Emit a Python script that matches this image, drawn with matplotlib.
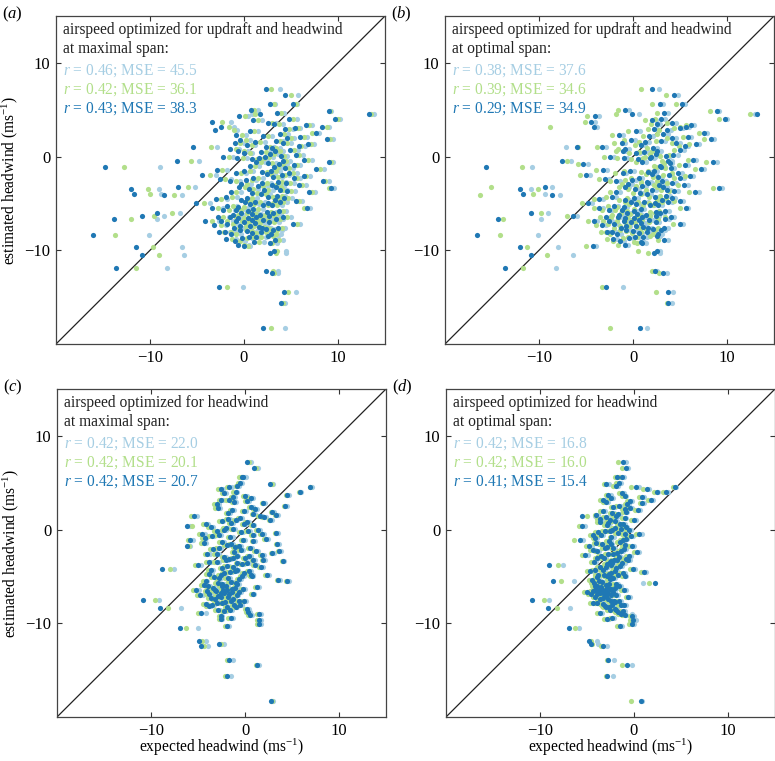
import matplotlib

matplotlib.use("Agg")
import matplotlib.pyplot as plt

# estimated headwind (ms-1), shared by every panel and every series
Y_EST = [
    7.2, 6.6, 5.6, 5.6, 4.9, 4.5, 4.5, 4.3, 4.0, 4.0,
    3.7, 3.2, 3.2, 2.8, 2.5, 2.4, 2.1, 1.9, 1.6, 1.4,
    1.0, 1.0, 0.8, 0.6, 0.4, 0.2, 0.0, -0.2, -0.4, -0.5,
    -0.6, -0.8, -1.0, -1.1, -1.3, -1.5, -1.7, -1.8, -2.0, -2.1,
    -2.3, -2.4, -2.6, -2.7, -2.9, -3.0, -3.2, -3.4, -3.5, -3.6,
    -3.8, -4.0, -4.1, -4.2, -4.4, -4.5, -4.7, -4.8, -5.0, -5.2,
    -5.4, -5.5, -5.7, -5.9, -6.0, -6.1, -6.3, -6.4, -6.5, -6.7,
    -6.8, -6.9, -7.0, -7.2, -7.3, -7.5, -7.6, -7.8, -8.0, -8.2,
    -8.4, -8.5, -8.7, -8.9, -9.0, -9.2, -9.5, -9.7, -10.1, -10.3,
    -10.5, -11.9, -12.2, -12.4, -13.9, -14.5, -15.6, -18.3,
    1.2, 0.9, 0.5, 0.1, -0.3, -0.7, -1.2, -1.6, -2.2, -2.5,
    -2.8, -3.1, -3.3, -3.7, -3.9, -4.3, -4.6, -4.9, -5.1, -5.3,
    -5.6, -5.8, -6.0, -6.2, -6.4, -6.6, -6.7, -6.9, -7.1, -7.4,
    -7.7, -7.9, -8.1, -8.6, -8.8, 1.8, 2.2, 3.0, 3.5, 1.3, -0.9, -3.8,
    4.7, 3.9, 3.4, 2.7, 2.0, 1.5, 0.7, 0.3, -0.1, -0.6,
    -1.1, -1.4, -1.9, -2.3, -2.6, -3.0, -3.3, -3.6, -4.0, -4.3,
    -4.6, -4.9, -5.2, -5.5, -5.8, -6.0, -6.2, -6.4, -6.6, -6.8,
    -7.0, -7.2, -7.4, -7.6, -7.8, -8.0, -8.3, -8.6, -9.1, -9.4,
    5.0, 3.6, 2.9, 2.3, 1.7, 1.1, 0.6, 0.0, -0.5, -1.5,
    -2.0, -2.8, -3.5, -4.4, -5.0, -5.7, -6.3, -6.9, -7.6, -8.3,
]

# expected headwind (ms-1): (a) updraft + headwind, maximal span
A_DARK = [
    2.3, 4.4, 2.8, 5.2, 9.0, 13.3, 1.7, -0.5, 9.7, 4.8,
    -3.4, 8.3, -2.4, -3.1, 7.7, 3.8, 6.0, 8.8, 1.2, 4.2,
    -5.4, 2.3, -1.5, 3.3, 0.0, 5.5, -2.2, 1.6, 6.4, -7.1,
    9.0, 3.7, 0.6, -14.8, 7.7, 2.9, -0.9, 4.8, -4.5, 6.4,
    1.0, -2.6, 8.4, 3.6, -0.3, 5.9, -7.0, 9.3, -12.0, 2.1,
    -1.4, -11.7, -8.5, 3.5, 0.3, -3.0, 5.5, 1.2, -5.1, 3.0,
    -0.6, 6.7, -2.2, 2.4, -9.3, 0.8, -10.8, 4.2, -1.5, -13.8,
    2.0, -4.1, 0.0, 5.2, -3.2, 1.6, -1.1, 3.1, -2.0, 0.8,
    -16.1, 2.6, -0.2, 3.3, -1.0, 2.8, 0.0, -11.5, 3.2, 2.8,
    -10.8, -13.6, 2.3, 3.0, -2.7, 4.3, 3.9, 2.0,
    0.3, 3.0, 1.8, 3.9, 0.8, 2.6, 4.4, 1.9, 3.1, 0.2,
    4.5, 1.5, 3.4, 4.6, 0.9, 2.6, -0.3, 3.8, 0.6, -1.8,
    1.0, 3.7, -0.3, 1.7, -2.8, 0.4, 3.4, -0.8, 1.2, -0.4,
    2.3, 0.3, -2.7, 1.3, -1.9, -0.4, 2.0, 5.4, 3.2, 6.8, 5.3, 6.9,
    3.5, 1.0, 6.6, 0.6, 4.6, -1.0, 4.9, 2.8, -0.7, 1.3,
    3.2, -2.9, 2.4, 5.3, -1.5, 3.0, -0.5, 3.8, 1.8, -1.9,
    3.3, 0.1, 2.0, -3.4, 0.4, 3.1, -1.2, 1.3, -0.6, 0.9,
    2.7, -1.8, 0.6, 3.6, -0.4, 1.8, -1.4, 0.5, 1.1, -0.6,
    0.7, 2.5, 4.4, -0.8, 3.4, 5.8, -0.6, 2.2, 4.1, 0.0,
    4.0, 1.9, 0.5, 4.3, 2.6, -0.9, 2.7, -2.4, 1.9, 2.9,
]
A_GREEN = [
    2.9, 5.0, 3.2, 5.5, 9.2, 13.5, 1.2, 0.1, 10.0, 5.2,
    -2.3, 8.8, -1.6, -1.1, 7.2, 4.3, 6.4, 9.2, 1.7, 4.6,
    -3.5, 2.8, -0.9, 3.8, 0.6, 5.9, -1.6, 2.1, 6.8, -5.6,
    9.3, 4.2, 1.2, -12.8, 8.1, 3.4, -0.3, 5.2, -3.6, 6.6,
    1.5, -2.0, 8.6, 4.0, 0.3, 6.2, -6.0, 9.0, -10.2, 2.6,
    -0.8, -10.0, -7.5, 4.0, 0.9, -2.4, 5.8, 1.7, -4.3, 3.5,
    0.0, 6.4, -1.6, 2.9, -7.7, 1.3, -9.6, 4.6, -0.9, -12.0,
    2.5, -3.4, 0.5, 5.6, -2.5, 2.1, -0.5, 3.5, -1.4, 1.3,
    -13.7, 3.1, 0.3, 3.7, -0.4, 3.0, 0.4, -9.7, 3.5, 3.4,
    -9.0, -11.5, 3.1, 3.2, -1.8, 4.7, 4.1, 2.9,
    0.8, 3.4, 2.3, 4.3, 1.4, 3.0, 4.8, 2.4, 3.6, 0.8,
    4.9, 2.0, 3.9, 5.0, 1.4, 3.1, 0.3, 4.2, 1.1, -1.2,
    1.5, 4.1, 0.3, 2.2, -2.2, 0.9, 3.8, -0.2, 1.7, 0.2,
    2.8, 0.9, -2.1, 1.8, -1.3, 0.2, 2.5, 5.7, 3.7, 7.1, 5.6, 7.2,
    3.9, 1.5, 6.9, 1.1, 5.0, -0.4, 5.3, 3.2, -0.1, 1.8,
    3.6, -2.3, 2.9, 5.6, -0.9, 3.4, 0.1, 4.2, 2.3, -1.3,
    3.7, 0.7, 2.5, -2.8, 0.9, 3.5, -0.6, 1.8, 0.0, 1.4,
    3.2, -1.2, 1.1, 4.0, 0.2, 2.3, -0.8, 1.0, 1.6, 0.0,
    1.1, 3.0, 4.8, -0.2, 3.8, 6.1, 0.0, 2.7, 4.5, 0.6,
    4.4, 2.4, 1.0, 4.7, 3.1, -0.3, 3.2, -1.8, 2.4, 3.4,
]
A_LIGHT = [
    3.8, 5.7, 3.3, 5.6, 9.3, 13.8, 0.9, 0.4, 10.2, 5.6,
    -1.4, 9.0, -1.1, -0.7, 8.0, 4.7, 6.7, 9.5, 2.2, 5.0,
    -2.9, 3.2, -0.5, 4.2, 0.9, 6.3, -1.2, 2.6, 7.2, -4.8,
    9.5, 4.6, 1.6, -8.9, 8.5, 3.8, 0.2, 5.6, -3.0, 7.0,
    2.0, -1.4, 9.0, 4.5, 0.7, 6.6, -5.2, 9.6, -9.0, 3.1,
    -0.3, -8.8, -6.6, 4.4, 1.4, -1.8, 6.2, 2.2, -3.6, 4.0,
    0.5, 7.0, -1.0, 3.4, -6.8, 1.8, -8.5, 5.0, -0.4, -9.3,
    3.0, -2.7, 1.1, 6.0, -1.9, 2.6, 0.0, 4.0, -0.8, 1.8,
    -10.1, 3.6, 0.8, 4.1, 0.1, 3.5, 0.6, -6.6, 4.5, 4.5,
    -6.4, -8.2, 3.6, 3.6, -0.1, 5.5, 4.4, 4.4,
    1.2, 3.8, 2.8, 4.6, 1.8, 3.4, 5.2, 2.8, 4.0, 1.3,
    5.3, 2.5, 4.3, 5.4, 1.9, 3.6, 0.8, 4.6, 1.6, -0.7,
    2.0, 4.5, 0.8, 2.7, -1.6, 1.4, 4.2, 0.3, 2.2, 0.7,
    3.3, 1.4, -1.5, 2.3, -0.8, 0.6, 3.0, 6.0, 4.1, 7.4, 6.0, 7.5,
    4.3, 1.9, 7.2, 1.5, 5.3, 0.0, 5.7, 3.6, 0.3, 2.2,
    4.0, -1.8, 3.3, 6.0, -0.4, 3.8, 0.5, 4.6, 2.8, -0.7,
    4.1, 1.2, 3.0, -2.2, 1.4, 3.9, -0.1, 2.3, 0.5, 1.9,
    3.7, -0.6, 1.6, 4.4, 0.7, 2.8, -0.3, 1.5, 2.1, 0.5,
    1.5, 3.4, 5.2, 0.2, 4.2, 6.5, 0.4, 3.1, 4.9, 1.0,
    4.8, 2.9, 1.5, 5.1, 3.6, 0.2, 3.7, -1.2, 2.9, 3.9,
]

# (b) updraft + headwind, optimal span
B_DARK = [
    2.0, 4.4, 2.9, 5.2, 8.9, 13.2, -0.1, -4.0, 9.8, 3.0,
    -4.5, 5.6, -4.2, 3.6, 7.5, 3.2, 5.9, 8.3, 1.3, 4.6,
    -6.0, -3.3, -0.8, 2.6, 0.3, 4.3, -2.4, 1.8, 6.4, -7.6,
    8.5, -5.3, 2.9, -15.6, 7.2, 2.2, -1.1, 4.8, -5.0, 6.1,
    0.6, -3.0, 3.1, 1.5, -0.5, 5.4, -9.4, 9.2, -12.0, 2.0,
    -1.8, -11.7, -8.6, 3.5, 0.1, -3.6, 5.0, 1.2, -4.8, 2.7,
    -1.0, 5.6, -2.6, 2.4, -10.9, 0.4, -6.4, 4.0, -1.6, -14.4,
    1.7, -4.2, -0.2, 5.0, -3.3, 1.1, -1.3, 3.0, -2.2, 0.6,
    -16.6, 2.5, -0.4, 3.3, -1.4, 1.0, -4.3, -12.0, 2.6, 2.2,
    -10.8, -13.6, 2.3, 3.2, -2.9, 3.75, 3.75, 0.75,
    0.9, 2.1, 1.2, 3.5, 0.5, 3.9, 4.0, 1.6, 2.7, -0.1,
    4.2, 1.0, 3.2, 4.4, 0.7, 2.3, -0.8, 3.7, 0.3, -2.0,
    0.8, 3.4, -0.6, 1.4, -2.9, 0.1, 3.4, -1.0, 0.9, -0.7,
    2.1, 0.0, -2.8, 1.1, -2.1, -0.2, 1.7, 5.0, 2.5, 6.7, 5.5, 6.6,
    3.3, 2.0, 6.2, 0.3, 4.2, -1.2, 5.0, 2.4, -1.0, 1.0,
    3.0, -3.2, 2.0, 5.0, -1.8, 2.8, -0.8, 3.6, 1.5, -2.2,
    3.1, -0.2, 1.8, -3.6, 0.1, 2.9, -1.5, 1.0, -0.9, 0.6,
    2.4, -2.0, 0.3, 3.3, -0.7, 1.5, -1.7, 0.2, 0.8, -0.9,
    -0.8, 4.2, 2.2, -1.5, 3.0, 5.5, -1.1, 1.9, 3.7, -0.3,
    3.8, 1.6, 0.2, 4.1, 2.3, -1.2, 2.4, -2.6, 1.6, 2.7,
]
B_GREEN = [
    0.9, 3.5, 2.0, 4.6, 8.2, 12.4, -1.8, -4.9, 9.2, 2.3,
    -5.1, 5.0, -8.8, 2.8, 7.0, 2.6, 5.3, 7.6, 0.6, 4.1,
    -5.8, -3.8, -1.6, 2.0, -0.4, 3.8, -3.1, 1.1, 5.8, -7.0,
    7.8, -5.8, 2.2, -11.8, 6.6, 1.6, -1.9, 4.1, -5.6, 5.5,
    -0.2, -3.6, 2.5, 0.9, -1.2, 4.8, -15.1, 8.5, -10.1, 1.4,
    -2.5, -10.6, -16.3, 2.9, -0.6, -4.2, 4.4, 0.5, -5.4, 2.1,
    -1.7, 5.0, -3.3, 1.8, -9.8, -0.3, -7.0, 3.4, -2.3, -13.8,
    1.0, -4.8, -0.9, 4.3, -3.9, 0.4, -2.0, 2.3, -2.9, -0.1,
    -14.1, 1.8, -1.1, 2.7, -2.1, 0.4, -5.0, -11.3, 0.5, 1.6,
    -9.2, -11.7, 2.0, 2.8, -3.3, 2.45, 3.6, -2.4,
    0.2, 1.5, 0.6, 2.9, -0.2, 3.3, 3.4, 0.9, 2.1, -0.8,
    3.6, 0.3, 2.6, 3.8, 0.0, 1.7, -1.5, 3.1, -0.4, -2.7,
    0.1, 2.8, -1.3, 0.7, -3.5, -0.6, 2.7, -1.7, 0.2, -1.4,
    1.4, -0.7, -3.4, 0.4, -2.8, -1.0, 1.1, 4.4, 1.9, 6.0, 4.9, 6.0,
    2.6, 1.3, 5.6, -0.5, 3.6, -2.0, 4.4, 1.8, -1.7, 0.3,
    2.4, -3.9, 1.4, 4.4, -2.5, 2.2, -1.5, 3.0, 0.8, -2.9,
    2.5, -0.9, 1.1, -4.2, -0.6, 2.3, -2.2, 0.3, -1.6, -0.1,
    1.7, -2.7, -0.4, 2.7, -1.4, 0.8, -2.4, -0.5, 0.1, -1.6,
    -1.6, 3.6, 1.6, -2.2, 2.4, 4.9, -1.8, 1.3, 3.1, -1.0,
    3.2, 0.9, -0.5, 3.5, 1.7, -1.9, 1.8, -3.2, 0.9, 2.1,
]
B_LIGHT = [
    2.8, 4.8, 3.2, 5.5, 9.2, 13.0, 0.6, -3.6, 10.0, 3.4,
    -4.0, 6.0, -3.8, 4.0, 7.9, 3.7, 6.2, 8.6, 1.7, 5.0,
    -7.1, -2.9, -0.4, 3.0, 0.7, 4.8, -2.0, 2.2, 6.7, -6.6,
    8.9, -4.8, 3.3, -10.7, 7.6, 2.6, -0.7, 5.2, -4.6, 6.4,
    1.0, -2.6, 3.5, 1.9, -0.1, 5.8, -8.6, 9.5, -10.8, 2.4,
    -1.4, -9.4, -7.8, 3.9, 0.5, -3.2, 5.3, 1.6, -4.4, 3.1,
    -0.6, 5.9, -2.2, 2.8, -9.0, 0.8, -6.0, 4.4, -1.2, -9.8,
    2.1, -3.8, 0.2, 5.3, -2.9, 1.5, -0.9, 3.4, -1.8, 1.0,
    -10.1, 2.9, 0.0, 3.7, -1.0, 1.4, -3.9, -8.0, 2.9, 2.9,
    -6.4, -8.2, 2.6, 3.6, -1.1, 4.3, 4.2, 1.45,
    1.3, 2.5, 1.6, 3.9, 0.9, 4.2, 4.4, 2.0, 3.1, 0.3,
    4.6, 1.4, 3.6, 4.8, 1.1, 2.7, -0.4, 4.1, 0.7, -1.6,
    1.2, 3.8, -0.2, 1.8, -2.5, 0.5, 3.8, -0.6, 1.3, -0.3,
    2.5, 0.4, -2.4, 1.5, -1.7, 0.2, 2.1, 5.3, 2.9, 7.0, 5.8, 7.0,
    3.7, 2.4, 6.5, 0.7, 4.6, -0.8, 5.4, 2.8, -0.6, 1.4,
    3.4, -2.8, 2.4, 5.4, -1.4, 3.2, -0.4, 4.0, 1.9, -1.8,
    3.5, 0.2, 2.2, -3.2, 0.5, 3.3, -1.1, 1.4, -0.5, 1.0,
    2.8, -1.6, 0.7, 3.7, -0.3, 1.9, -1.3, 0.6, 1.2, -0.5,
    -0.4, 4.6, 2.6, -1.1, 3.4, 5.9, -0.7, 2.3, 4.1, 0.1,
    4.2, 2.0, 0.6, 4.5, 2.7, -0.8, 2.8, -2.2, 2.0, 3.1,
]

# (c) headwind only, maximal span
C_DARK = [
    0.2, 1.0, -0.3, -0.2, 2.7, 6.9, -1.7, -2.6, 5.8, -1.0,
    4.5, -1.7, -2.6, 1.9, 4.3, 0.6, -1.4, 2.9, 3.3, -5.4,
    -1.0, 2.7, 0.2, -4.2, -6.2, -2.0, 1.4, -3.0, 3.3, -4.6,
    0.8, -1.6, 2.2, -5.8, -2.5, 3.4, -0.6, -6.2, 0.5, -3.4,
    3.6, -1.2, -4.0, 1.8, -2.2, 0.0, 1.9, 4.0, -3.0, -0.8,
    -5.0, 1.7, -2.4, -8.8, 0.4, -1.6, -3.8, 2.3, -0.3, -2.8,
    3.5, 4.5, -1.0, -4.4, -2.0, 1.3, -0.2, -3.2, -5.2, -1.4,
    -2.6, 0.8, -4.8, -1.8, -3.6, -10.8, -0.1, -3.0, -1.2, -3.8,
    -9.0, 0.2, -2.2, -4.7, 1.5, -2.6, -2.6, 1.5, 1.5, -1.9,
    -6.9, -4.9, -2.8, -4.7, -1.7, 1.3, -1.9, 2.8,
    -0.5, -2.5, 0.8, -1.3, -0.4, -3.5, 0.9, -1.9, -0.4, 2.9,
    -0.9, -1.7, 0.9, -0.3, -1.9, -0.9, -2.2, 0.6, -3.3, -0.6,
    -1.5, -2.4, -3.9, -1.1, -2.3, -3.1, -0.6, -1.7, -2.9, -1.3,
    -2.1, -4.2, -0.5, -1.6, 0.3, -1.8, 1.1, 0.2, -1.3, 2.0, -4.3, 1.1,
    -0.8, -2.2, 0.6, -3.0, -0.1, 1.6, -1.5, -3.6, 0.3, -2.8,
    -0.2, -4.4, -1.1, 1.2, -3.0, -1.3, -2.0, 0.2, -1.3, -3.6,
    -0.1, -2.6, -1.8, -4.2, -0.8, -2.5, -3.4, -1.9, -4.0, -2.2,
    -0.9, -2.6, -3.2, -1.5, -2.4, -3.5, -1.0, -2.9, 0.5, -1.5,
    -0.5, 0.0, -1.2, -2.9, 0.9, -1.8, -0.1, -2.2, 1.8, -1.5,
    -2.8, 0.4, -3.8, -1.1, 0.7, -2.9, -1.4, -3.8, -0.6, -1.9,
]
C_GREEN = [
    0.4, 1.2, -0.6, -0.4, 2.9, 6.9, -1.9, -2.9, 5.7, -1.3,
    4.4, -2.0, -2.8, 1.8, 4.2, 0.4, -1.6, 2.8, 3.2, -5.7,
    -1.2, 2.5, 0.0, -4.5, -5.6, -2.3, 1.2, -3.3, 3.2, -4.9,
    0.6, -1.8, 2.0, -6.1, -2.8, 3.3, -0.8, -6.0, 0.3, -3.7,
    3.5, -1.4, -4.3, 1.6, -2.5, -0.2, 1.8, 3.9, -3.3, -1.0,
    -5.3, 1.5, -2.7, -8.0, 0.2, -1.9, -4.1, 2.1, -0.5, -3.1,
    3.4, 4.4, -1.2, -4.7, -2.3, 1.1, -0.4, -3.5, -5.5, -1.6,
    -2.9, 0.6, -5.1, -2.1, -3.9, -9.6, -0.3, -3.3, -1.4, -4.1,
    -8.2, 0.0, -2.5, -5.0, 1.3, -2.8, -2.8, 1.3, 1.3, -2.1,
    -6.3, -4.6, -2.6, -4.4, -1.9, 1.2, -2.1, 2.9,
    -0.7, -2.8, 0.6, -1.5, -0.6, -3.8, 0.7, -2.2, -0.6, 2.8,
    -1.1, -2.0, 0.7, -0.5, -2.2, -1.1, -2.5, 0.4, -3.6, -0.8,
    -1.8, -2.7, -4.2, -1.3, -2.6, -3.4, -0.8, -2.0, -3.2, -1.5,
    -2.4, -4.5, -0.7, -1.9, 0.1, -2.0, 0.9, 0.0, -1.5, 1.8, -4.6, 0.9,
    -1.0, -2.4, 0.4, -3.3, -0.3, 1.4, -1.7, -3.9, 0.1, -3.1,
    -0.4, -4.7, -1.3, 1.0, -3.3, -1.5, -2.3, 0.0, -1.5, -3.9,
    -0.3, -2.9, -2.1, -4.5, -1.0, -2.8, -3.7, -2.2, -4.3, -2.5,
    -1.1, -2.9, -3.5, -1.8, -2.7, -3.8, -1.2, -3.2, 0.3, -1.8,
    -0.7, -0.2, -1.4, -3.2, 0.7, -2.0, -0.3, -2.5, 1.6, -1.7,
    -3.1, 0.2, -4.1, -1.3, 0.5, -3.2, -1.7, -4.1, -0.8, -2.1,
]
C_LIGHT = [
    0.6, 1.4, 0.0, 0.1, 3.0, 7.1, -1.4, -2.3, 6.0, -0.8,
    4.7, -1.4, -2.3, 2.1, 4.5, 0.8, -1.2, 3.1, 3.5, -5.1,
    -0.8, 2.9, 0.4, -3.9, -5.9, -1.8, 1.6, -2.7, 3.5, -4.3,
    1.0, -1.3, 2.4, -5.5, -2.2, 3.6, -0.4, -5.9, 0.7, -3.1,
    3.8, -1.0, -3.7, 2.0, -2.0, 0.2, 2.1, 4.2, -2.8, -0.6,
    -4.7, 1.9, -2.2, -7.6, 0.6, -1.4, -3.5, 2.5, -0.1, -2.6,
    3.7, 4.7, -0.8, -4.1, -1.8, 1.5, 0.0, -3.0, -4.9, -1.2,
    -2.4, 1.0, -4.5, -1.6, -3.4, -9.2, 0.1, -2.8, -1.0, -3.6,
    -6.8, 0.4, -2.0, -4.2, 1.7, -2.4, -2.4, 1.7, 1.7, -1.7,
    -5.0, -4.1, -2.2, -3.9, -1.3, 1.5, -1.5, 3.0,
    -0.3, -2.3, 1.0, -1.1, -0.2, -3.3, 1.1, -1.7, -0.2, 3.1,
    -0.7, -1.5, 1.1, -0.1, -1.7, -0.7, -2.0, 0.8, -3.1, -0.4,
    -1.3, -2.2, -3.7, -0.9, -2.1, -2.9, -0.4, -1.5, -2.7, -1.1,
    -1.9, -4.0, -0.3, -1.4, 0.5, -1.6, 1.3, 0.4, -1.1, 2.2, -4.1, 1.3,
    -0.6, -2.0, 0.8, -2.8, 0.1, 1.8, -1.3, -3.4, 0.5, -2.6,
    0.0, -4.2, -0.9, 1.4, -2.8, -1.1, -1.8, 0.4, -1.1, -3.4,
    0.1, -2.4, -1.6, -4.0, -0.6, -2.3, -3.2, -1.7, -3.8, -2.0,
    -0.7, -2.4, -3.0, -1.3, -2.2, -3.3, -0.8, -2.7, 0.7, -1.3,
    -0.3, 0.2, -1.0, -2.7, 1.1, -1.6, 0.1, -2.0, 2.0, -1.3,
    -2.6, 0.6, -3.6, -0.9, 0.9, -2.7, -1.2, -3.6, -0.4, -1.7,
]

# (d) headwind only, optimal span
D_DARK = [
    -1.2, -0.9, -1.8, -1.3, -3.0, 4.4, 0.2, 1.4, 2.4, 3.4,
    -2.8, 1.8, -3.3, 0.9, -1.6, -2.2, 0.4, -0.9, -4.0, -5.5,
    -2.6, 0.0, -3.6, -1.2, -5.5, -2.0, -0.5, -3.1, -1.7, 0.5,
    -4.4, -2.4, -0.9, -5.7, -1.5, -3.4, -0.2, -4.8, -2.2, -1.1,
    -3.9, 0.3, -2.8, -5.2, -1.6, -3.2, -0.6, -2.5, -4.3, -1.3,
    -9.0, -3.6, -1.9, -0.1, -4.7, 1.1, -2.7, -3.8, -1.0, -2.2,
    -4.5, -8.6, 2.2, -3.0, -1.6, -3.5, -2.4, -4.1, -1.1, -5.0,
    -2.8, -3.9, -1.9, -0.6, -3.3, -10.8, -2.5, -4.4, -1.4, -3.1,
    -9.1, -2.0, -1.2, -3.6, -1.4, -0.2, -2.9, -0.1, -0.2, -1.5,
    -6.9, -4.8, -4.6, -3.3, -2.8, -0.7, -2.9, 0.7,
    -1.0, -2.0, -2.9, -1.4, -3.8, -0.3, -2.7, -1.0, -4.4, -1.8,
    -3.5, -0.9, -2.1, -2.9, -1.5, -3.3, -2.4, -1.7, -3.9, -2.6,
    -3.4, -1.9, -4.2, -2.9, -3.7, -3.1, -2.2, -4.6, -3.0, -3.6,
    -2.0, -3.3, -1.1, -2.6, -1.7, -2.3, -1.0, -0.4, 0.9, -3.0, -4.1, -2.4,
    -1.9, -1.3, -2.4, -0.7, -3.3, -1.9, -2.8, -0.9, -2.6, -3.5,
    -1.2, -4.0, -2.9, -1.4, -2.2, -3.9, -1.8, -2.3, -3.0, -4.2,
    -1.2, -3.2, -2.4, -3.7, -2.7, -3.9, -2.0, -3.3, -4.4, -3.6,
    -2.4, -4.1, -2.8, -1.6, -3.9, -2.3, -3.0, -1.9, -1.0, -2.3,
    -1.6, -1.0, -3.0, -0.4, -1.7, -3.6, -1.5, -2.3, -1.0, -2.5,
    -3.1, -0.5, -2.6, -2.0, -2.9, -4.3, -2.6, -3.2, -2.1, -2.7,
]
D_GREEN = [
    -1.7, -1.3, -2.0, -1.6, -3.2, 4.2, -0.3, 1.0, 2.1, 3.1,
    -3.0, 1.5, -3.6, 0.6, -1.9, -2.5, 0.1, -1.2, -4.2, -5.0,
    -2.9, -0.3, -3.9, -1.5, -5.8, -2.3, -0.8, -3.4, -2.0, 0.2,
    -4.7, -2.6, -1.2, -6.4, -1.8, -3.7, -0.5, -5.1, -2.5, -1.4,
    -4.2, 0.0, -3.1, -5.5, -1.9, -3.5, -0.9, -2.8, -4.6, -1.6,
    -8.1, -3.9, -2.2, -0.4, -5.0, 0.7, -3.0, -4.1, -1.3, -2.5,
    -4.8, -7.8, 1.6, -3.3, -1.9, -3.8, -2.7, -4.4, -1.4, -5.3,
    -3.1, -4.2, -2.2, -0.9, -3.6, -9.6, -2.8, -4.7, -1.7, -3.4,
    -8.2, -2.3, -1.5, -3.9, -1.7, -0.4, -3.2, -0.4, -0.5, -1.8,
    -6.3, -4.6, -4.5, -3.5, -2.9, -1.25, -3.0, -0.3,
    -1.3, -2.3, -3.2, -1.7, -4.1, -0.6, -3.0, -1.3, -4.7, -2.1,
    -3.8, -1.2, -2.4, -3.2, -1.8, -3.6, -2.7, -2.0, -4.2, -2.9,
    -3.7, -2.2, -4.5, -3.2, -4.0, -3.4, -2.5, -4.9, -3.3, -3.9,
    -2.3, -3.6, -1.4, -2.9, -2.0, -2.6, -1.3, -0.7, 0.5, -3.3, -4.4, -2.7,
    -2.2, -1.6, -2.7, -1.0, -3.6, -2.2, -3.1, -1.2, -2.9, -3.8,
    -1.5, -4.3, -3.2, -1.7, -2.5, -4.2, -2.1, -2.6, -3.3, -4.5,
    -1.5, -3.5, -2.7, -4.0, -3.0, -4.2, -2.3, -3.6, -4.7, -3.9,
    -2.7, -4.4, -3.1, -1.9, -4.2, -2.6, -3.3, -2.2, -1.3, -2.6,
    -1.9, -1.3, -3.3, -0.7, -2.0, -3.9, -1.8, -2.6, -1.3, -2.8,
    -3.4, -0.8, -2.9, -2.3, -3.2, -4.6, -2.9, -3.5, -2.4, -3.0,
]
D_LIGHT = [
    -0.8, -0.6, -1.5, -1.1, -2.7, 4.5, 0.5, 1.6, 2.6, 3.6,
    -2.5, 2.0, -3.0, 1.1, -1.4, -2.0, 0.6, -0.7, -3.8, -4.2,
    -2.4, 0.2, -3.4, -1.0, -5.2, -1.7, -0.3, -2.9, -1.4, 0.8,
    -4.1, -2.1, -0.7, -5.4, -1.3, -3.2, 0.0, -4.5, -2.0, -0.9,
    -3.7, 0.5, -2.6, -4.9, -1.4, -3.0, -0.4, -2.3, -4.0, -1.0,
    -7.6, -3.4, -1.7, 0.1, -4.4, 1.3, -2.4, -3.6, -0.8, -2.0,
    -4.2, -6.4, 1.0, -2.8, -1.4, -3.3, -2.2, -3.9, -0.9, -4.7,
    -2.6, -3.7, -1.7, -0.4, -3.1, -9.0, -2.3, -4.2, -1.2, -2.9,
    -6.8, -1.8, -1.0, -3.4, -0.2, 0.0, -2.7, 0.2, 0.0, -1.3,
    -5.8, -3.9, -3.8, -2.9, -2.1, -0.2, -2.2, 0.9,
    -0.8, -1.8, -2.7, -1.2, -3.6, -0.1, -2.5, -0.8, -4.2, -1.6,
    -3.3, -0.7, -1.9, -2.7, -1.3, -3.1, -2.2, -1.5, -3.7, -2.4,
    -3.2, -1.7, -4.0, -2.7, -3.5, -2.9, -2.0, -4.4, -2.8, -3.4,
    -1.8, -3.1, -0.9, -2.4, -1.5, -2.1, -0.8, -0.2, 1.1, -2.8, -3.9, -2.2,
    -1.7, -1.1, -2.2, -0.5, -3.1, -1.7, -2.6, -0.7, -2.4, -3.3,
    -1.0, -3.8, -2.7, -1.2, -2.0, -3.7, -1.6, -2.1, -2.8, -4.0,
    -1.0, -3.0, -2.2, -3.5, -2.5, -3.7, -1.8, -3.1, -4.2, -3.4,
    -2.2, -3.9, -2.6, -1.4, -3.7, -2.1, -2.8, -1.7, -0.8, -2.1,
    -1.4, -0.8, -2.8, -0.2, -1.5, -3.4, -1.3, -2.1, -0.8, -2.3,
    -2.9, -0.3, -2.4, -1.8, -2.7, -4.1, -2.4, -3.0, -1.9, -2.5,
]

PANEL_LABELS = ["a", "b", "c", "d"]
TITLES = [
    ["airspeed optimized for updraft and headwind", "at maximal span:"],
    ["airspeed optimized for updraft and headwind", "at optimal span:"],
    ["airspeed optimized for headwind", "at maximal span:"],
    ["airspeed optimized for headwind", "at optimal span:"],
]
# (r, MSE) for light, green, dark series
STATS = [
    [("0.46", "45.5"), ("0.42", "36.1"), ("0.43", "38.3")],
    [("0.38", "37.6"), ("0.39", "34.6"), ("0.29", "34.9")],
    [("0.42", "22.0"), ("0.42", "20.1"), ("0.42", "20.7")],
    [("0.42", "16.8"), ("0.42", "16.0"), ("0.41", "15.4")],
]
SERIES = [
    (A_LIGHT, A_GREEN, A_DARK),
    (B_LIGHT, B_GREEN, B_DARK),
    (C_LIGHT, C_GREEN, C_DARK),
    (D_LIGHT, D_GREEN, D_DARK),
]

for s in SERIES:
    for xs in s:
        assert len(xs) == len(Y_EST), (len(xs), len(Y_EST))

COLORS = ["#a6cee3", "#b2df8a", "#1f78b4"]
LIM = (-20, 15)

plt.rcParams["font.family"] = ["Liberation Serif", "DejaVu Serif"]
plt.rcParams["mathtext.fontset"] = "custom"
plt.rcParams["mathtext.rm"] = "Liberation Serif"
plt.rcParams["mathtext.it"] = "Liberation Serif:italic"
plt.rcParams["font.size"] = 11.2

fig = plt.figure(figsize=(7.75, 7.61), dpi=100)
W, H = 329 / 775, 328 / 761
positions = [
    (56 / 775, 417 / 761),
    (445 / 775, 417 / 761),
    (57 / 775, 44 / 761),
    (446 / 775, 44 / 761),
]

for i, (left, bottom) in enumerate(positions):
    ax = fig.add_axes((left, bottom, W, H))
    ax.plot(LIM, LIM, color="#222222", lw=0.9, zorder=1)
    for xs, col in zip(SERIES[i], COLORS):
        ax.scatter(xs, Y_EST, s=14, color=col, linewidths=0, zorder=2)
    ax.set_xlim(LIM)
    ax.set_ylim(LIM)
    ax.set_xticks([-10, 0, 10])
    ax.set_yticks([-10, 0, 10])
    ax.tick_params(direction="in", length=3.5, width=0.8, top=True, right=True,
                   labelsize=12, pad=4, colors="#333333", labelcolor="black")
    for sp in ax.spines.values():
        sp.set_color("#444444")
        sp.set_linewidth(0.9)

    # annotation block
    offsets = [14, 33, 55, 74, 93]
    for k, txt in enumerate(TITLES[i]):
        ax.text(0.021, 1 - offsets[k] / 328, txt, transform=ax.transAxes,
                ha="left", va="center", color="#222222")
    for k, ((r, mse), col) in enumerate(zip(STATS[i], COLORS)):
        ax.text(0.021, 1 - offsets[k + 2] / 328, f"$r$ = {r}; MSE = {mse}",
                transform=ax.transAxes, ha="left", va="center", color=col)

    ax.text(-0.165, 1.005, f"(${PANEL_LABELS[i]}$)", transform=ax.transAxes,
            ha="left", va="center", fontsize=12)

    if i % 2 == 0:
        ax.set_ylabel("estimated headwind (ms$^{-1}$)", labelpad=3)
    if i >= 2:
        ax.set_xlabel("expected headwind (ms$^{-1}$)", labelpad=-1)

fig.savefig("out.png", dpi=100)
